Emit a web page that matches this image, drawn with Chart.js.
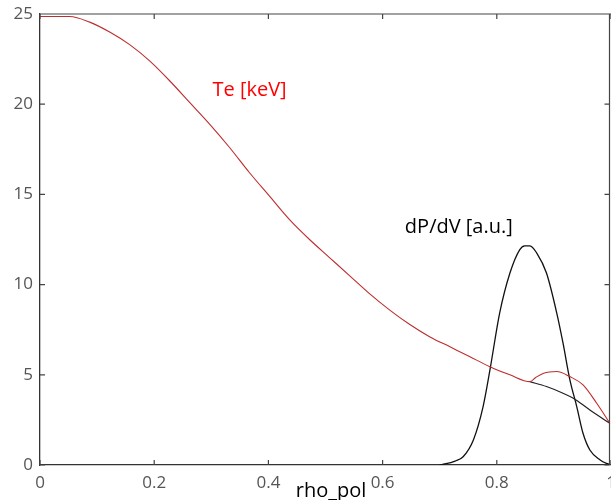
<!DOCTYPE html>
<html lang="en">
<head>
    <meta charset="UTF-8">
    <title>Te and dP/dV vs rho_pol</title>
    <script src="https://cdn.jsdelivr.net/npm/chart.js"></script>
    <style>
        body { margin: 0; background: #fff; }
        #wrap { width: 611px; height: 500px; }
    </style>
</head>
<body>
    <div id="wrap"><canvas id="profChart"></canvas></div>

    <script>
        // electron temperature (red), with the bump near the edge
        let teX = [0, 0.052, 0.087, 0.122, 0.157, 0.192, 0.227, 0.262, 0.297, 0.332, 0.367, 0.402, 0.437,
                   0.472, 0.507, 0.542, 0.577, 0.612, 0.647, 0.683, 0.718, 0.753, 0.788, 0.823, 0.858,
                   0.868, 0.882, 0.905, 0.928, 0.951, 0.975, 0.998];
        let teY = [24.86, 24.86, 24.55, 24.0, 23.3, 22.4, 21.3, 20.1, 18.9, 17.6, 16.2, 14.9, 13.6,
                   12.5, 11.5, 10.5, 9.5, 8.6, 7.8, 7.1, 6.55, 6.0, 5.45, 5.0, 4.62,
                   4.85, 5.09, 5.18, 4.9, 4.44, 3.42, 2.31];

        // black reference profile without the bump
        let baseX = [0.858, 0.887, 0.916, 0.934, 0.963, 0.998];
        let baseY = [4.62, 4.35, 3.98, 3.7, 3.05, 2.31];

        // deposited power density
        let powX = [0.70, 0.705, 0.727, 0.741, 0.759, 0.776, 0.788, 0.805, 0.823, 0.840, 0.849, 0.858,
                    0.870, 0.887, 0.905, 0.916, 0.928, 0.940, 0.951, 0.963, 0.981, 0.992, 0.998];
        let powY = [0, 0.03, 0.22, 0.46, 1.39, 3.24, 5.27, 8.42, 10.64, 11.93, 12.15, 12.15,
                    11.75, 10.64, 8.42, 6.75, 4.72, 3.24, 1.76, 0.83, 0.28, 0.09, 0.03];

        let xTicks = [0, 0.2, 0.4, 0.6, 0.8, 1];
        let yTicks = [0, 5, 10, 15, 20, 25];

        function pts(xs, ys) {
            return xs.map((x, i) => ({ x: x, y: ys[i] }));
        }

        const tickFont = { family: 'Open Sans', size: 17 };

        // box + inward ticks + free text, MATLAB style
        const framePlugin = {
            id: 'frame',
            afterDatasetsDraw(chart) {
                let ctx = chart.ctx;
                let a = chart.chartArea;
                let xs = chart.scales.x, ys = chart.scales.y;
                ctx.save();
                ctx.strokeStyle = '#444';
                ctx.lineWidth = 1.2;
                ctx.beginPath();
                ctx.moveTo(a.left, a.top); ctx.lineTo(a.right, a.top);
                ctx.moveTo(a.right - 1.5, a.top); ctx.lineTo(a.right - 1.5, a.bottom);
                xTicks.forEach(v => {
                    let px = xs.getPixelForValue(v);
                    ctx.moveTo(px, a.bottom); ctx.lineTo(px, a.bottom - 5);
                    ctx.moveTo(px, a.top); ctx.lineTo(px, a.top + 5);
                });
                yTicks.forEach(v => {
                    let py = ys.getPixelForValue(v);
                    ctx.moveTo(a.left, py); ctx.lineTo(a.left + 5, py);
                    ctx.moveTo(a.right - 1.5, py); ctx.lineTo(a.right - 6.5, py);
                });
                ctx.stroke();

                ctx.font = '20px "Open Sans"';
                ctx.textBaseline = 'middle';
                ctx.textAlign = 'left';
                ctx.fillStyle = '#ff0000';
                ctx.fillText('Te [keV]', xs.getPixelForValue(0.302), ys.getPixelForValue(20.75));
                ctx.fillStyle = '#000';
                ctx.fillText('dP/dV [a.u.]', xs.getPixelForValue(0.639), ys.getPixelForValue(13.2));
                ctx.fillText('rho_pol', xs.getPixelForValue(0.448), a.bottom + 26);
                ctx.restore();
            }
        };

        let profCtx = document.getElementById('profChart').getContext('2d');

        let profChart = new Chart(profCtx, {
            type: 'scatter',
            data: {
                datasets: [
                    { label: 'Te [keV]', data: pts(teX, teY), showLine: true, borderColor: 'rgb(190,45,45)',
                      borderWidth: 1.1, pointRadius: 0, cubicInterpolationMode: 'monotone' },
                    { label: 'Te ref', data: pts(baseX, baseY), showLine: true, borderColor: '#222',
                      borderWidth: 1.2, pointRadius: 0, cubicInterpolationMode: 'monotone' },
                    { label: 'dP/dV [a.u.]', data: pts(powX, powY), showLine: true, borderColor: '#111',
                      borderWidth: 1.3, pointRadius: 0, cubicInterpolationMode: 'monotone' }
                ]
            },
            options: {
                responsive: true,
                maintainAspectRatio: false,
                animation: false,
                layout: { padding: { top: 14, right: 0, left: 0, bottom: 0 } },
                plugins: { legend: { display: false }, tooltip: { enabled: false } },
                scales: {
                    x: {
                        type: 'linear', min: 0, max: 1,
                        grid: { display: false, drawTicks: false },
                        border: { display: true, color: '#333', width: 1.3 },
                        ticks: {
                            font: tickFont, color: '#555', padding: 8,
                            callback: v => xTicks.includes(Math.round(v * 10) / 10) ? String(Math.round(v * 10) / 10) : null,
                            stepSize: 0.2, maxRotation: 0, autoSkip: false
                        },
                        afterFit(s) { s.height = 35; s.paddingLeft = 0; s.paddingRight = 0; }
                    },
                    y: {
                        min: 0, max: 25,
                        grid: { display: false, drawTicks: false },
                        border: { display: true, color: '#333', width: 1.3 },
                        ticks: { font: tickFont, color: '#555', padding: 7, stepSize: 5 },
                        afterFit(s) { s.width = 40; s.paddingTop = 0; s.paddingBottom = 0; }
                    }
                }
            },
            plugins: [framePlugin]
        });
    </script>
</body>
</html>
